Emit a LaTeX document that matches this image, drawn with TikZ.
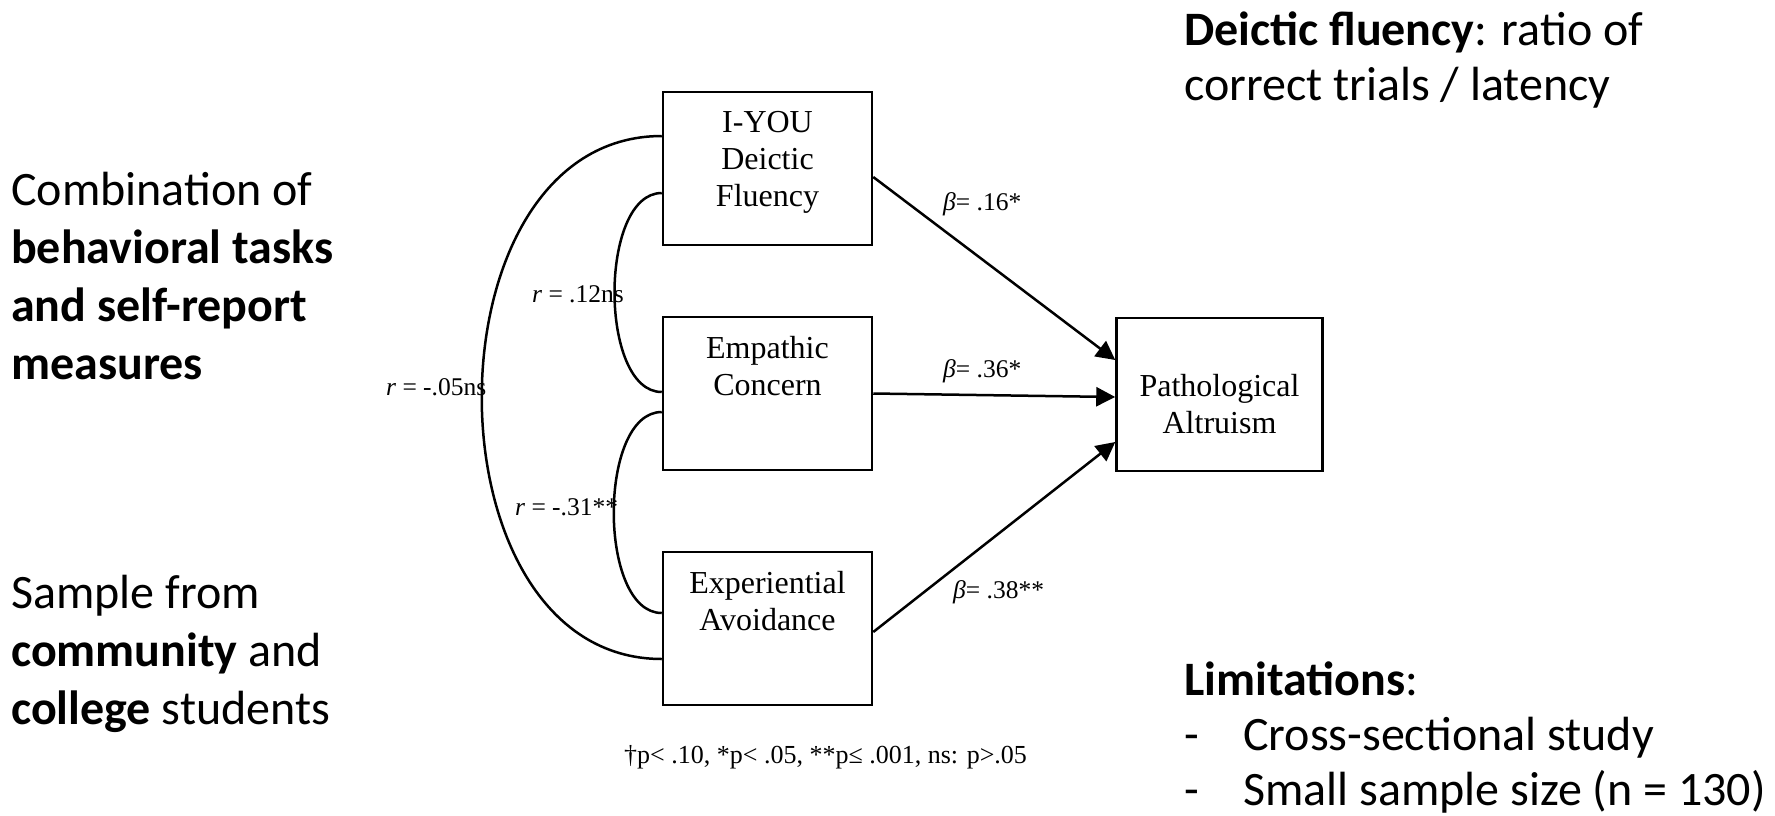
\documentclass[tikz,border=0pt]{standalone}
\usepackage{fontspec}
\setmainfont{Liberation Serif}
\newfontfamily\calibri{Carlito}
\usetikzlibrary{arrows.meta}
\tikzset{
  varbox/.style = {draw, line width = 2.5pt, minimum width = 209pt, minimum height = 153pt, inner sep = 0pt},
  vartext/.style = {font = \fontsize{32}{37}\selectfont, align = center, anchor = north, inner sep = 0pt},
  corr/.style = {line width = 2.5pt},
  effect/.style = {line width = 2.5pt, -{Triangle[length=19pt,width=19pt]}},
  coef/.style = {font = \fontsize{25.5}{30}\selectfont, anchor = base west, inner sep = 0pt},
  note/.style = {font = \calibri\fontsize{48}{58}\selectfont, align = left, anchor = north west, inner sep = 0pt},
}

\begin{document}
\begin{tikzpicture}[x=1pt,y=-1pt]
  \fill[white] (0,0) rectangle (1775,815);
% variables
  \node[varbox] (iyou)  at (767.5,168.5) {};
  \node[varbox] (empc)  at (767.5,393.5) {};
  \node[varbox] (expav) at (767.5,628.5) {};
  \node[varbox, minimum width = 206pt] (palt) at (1219.5,394.5) {};
  \node[vartext] (iyou-txt)  at ([yshift=-20pt]iyou.north)  {I-YOU\\Deictic\\Fluency};
  \node[vartext] (empc-txt)  at ([yshift=-20pt]empc.north)  {Empathic\\Concern};
  \node[vartext] (expav-txt) at ([yshift=-20pt]expav.north) {Experiential\\Avoidance};
  \node[vartext] (palt-txt)  at ([yshift=-57pt]palt.north)  {Pathological\\Altruism};
% correlations
  \draw[corr] ([yshift=32.5pt]iyou.west) .. controls +(-240,0) and +(-240,0) .. ([yshift=-30.5pt]expav.west);
  \draw[corr] ([yshift=-24.5pt]iyou.west) .. controls +(-63,0) and +(-63,0) .. ([yshift=1.5pt]empc.west);
  \draw[corr] ([yshift=-18.5pt]empc.west) .. controls +(-64,0) and +(-64,0) .. ([yshift=15.5pt]expav.west);
% effects
  \draw[effect] ([yshift=-8.5pt]iyou.east) -- ([yshift=34.5pt]palt.west);
  \draw[effect] (empc.east) -- ([yshift=-2.5pt]palt.west);
  \draw[effect] ([yshift=-3.5pt]expav.east) -- ([yshift=-47.5pt]palt.west);
% coefficients
  \node[coef] (r-iyou-empc)  at (532,302) {{\itshape r} = .12ns};
  \node[coef] (r-iyou-expav) at (386,395) {{\itshape r} = -.05ns};
  \node[coef] (r-empc-expav) at (515,515) {{\itshape r} = -.31**};
  \node[coef] (b-iyou)  at (943,210) {{\itshape β}= .16*};
  \node[coef] (b-empc)  at (943,377) {{\itshape β}= .36*};
  \node[coef] (b-expav) at (953,598) {{\itshape β}= .38**};
  \node[coef, font = \fontsize{26}{30}\selectfont] (pnote) at (624,763) {†p< .10, *p< .05, **p≤ .001, ns: p>.05};
% side notes
  \node[note] (method) at (11,172) {Combination of\\\textbf{behavioral tasks}\\\textbf{and self-report}\\\textbf{measures}};
  \node[note] (sample) at (11,575) {Sample from\\\textbf{community} and\\\textbf{college} students};
  \node[note, font = \calibri\fontsize{48}{55}\selectfont] (deixis) at (1184,12) {\textbf{Deictic fluency}: ratio of\\correct trials / latency};
  \node[note, font = \calibri\fontsize{48}{55}\selectfont] (limits) at (1184,662) {\textbf{Limitations}:\\\makebox[59pt][l]{-}Cross-sectional study\\\makebox[59pt][l]{-}Small sample size (n = 130)};
\end{tikzpicture}
\end{document}
